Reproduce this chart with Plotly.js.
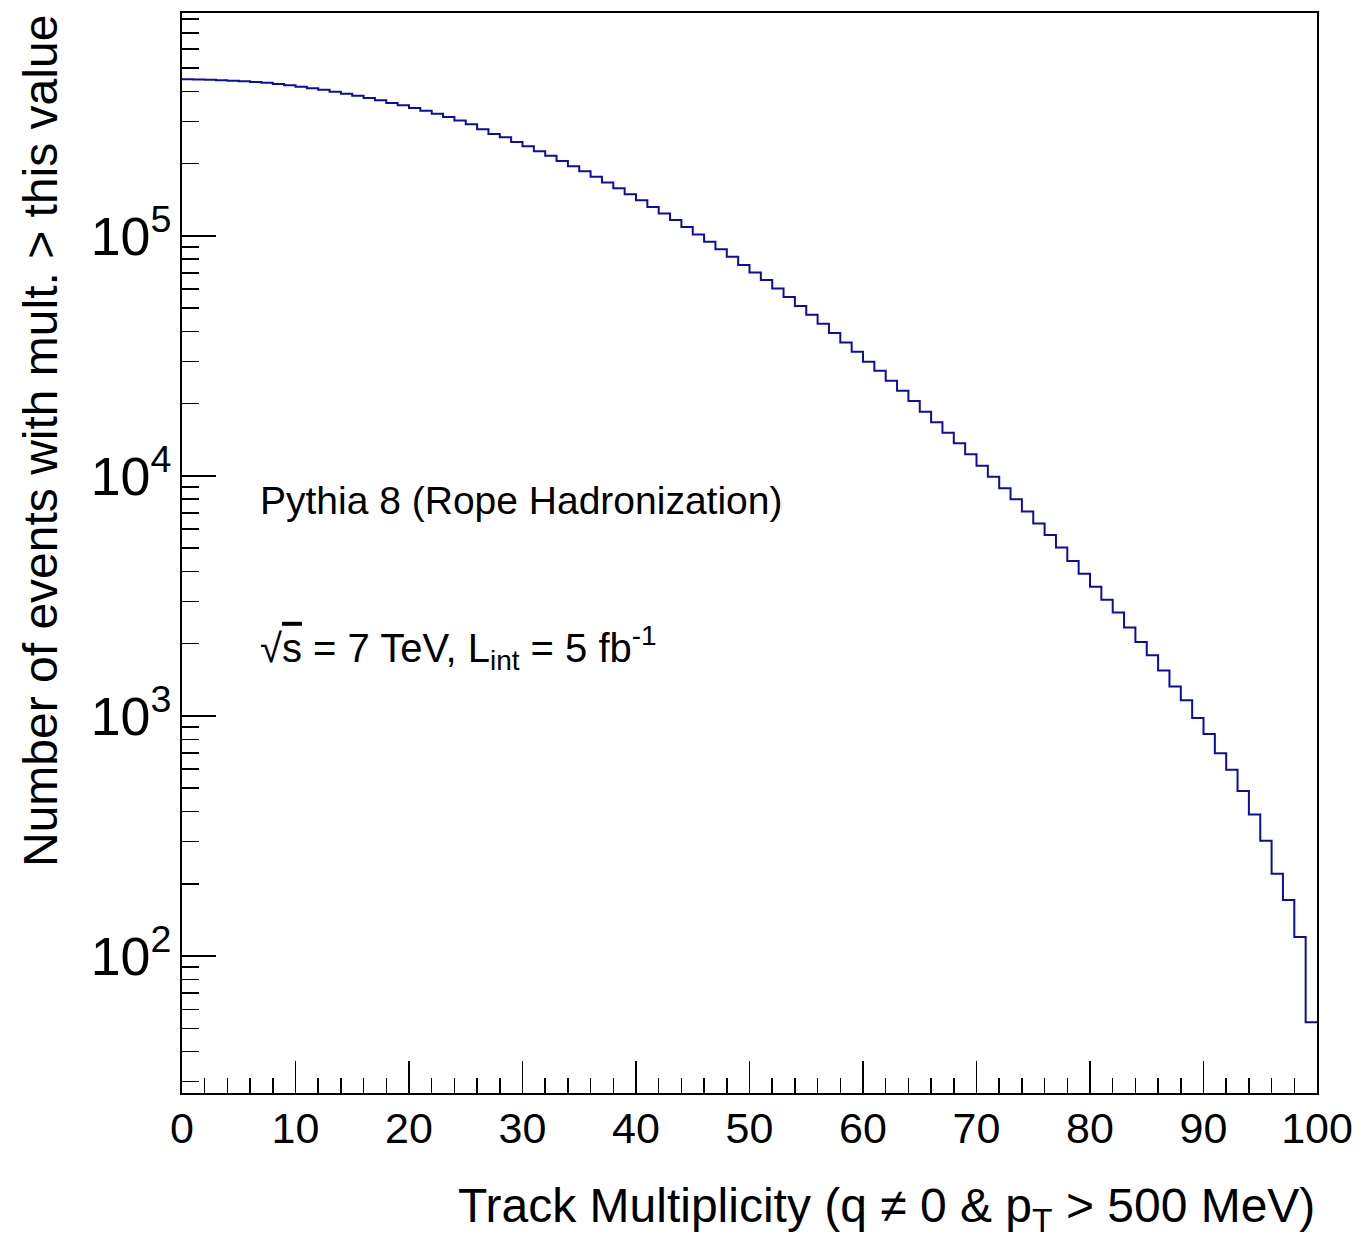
<!DOCTYPE html>
<html>
<head>
<meta charset="utf-8">
<script src="https://cdn.plot.ly/plotly-3.0.1.min.js"></script>
<style>html,body{margin:0;padding:0;background:#fff;}#chart{width:1370px;height:1241px;}</style>
</head>
<body>
<div id="chart"></div>
<script>
// Lower edge of each track-multiplicity bin (width 1), 0..99, plus the upper edge 100
var binLowEdges = [0,1,2,3,4,5,6,7,8,9,10,11,12,13,14,15,16,17,18,19,20,21,22,23,24,25,26,27,28,29,
  30,31,32,33,34,35,36,37,38,39,40,41,42,43,44,45,46,47,48,49,50,51,52,53,54,55,56,57,58,59,
  60,61,62,63,64,65,66,67,68,69,70,71,72,73,74,75,76,77,78,79,80,81,82,83,84,85,86,87,88,89,
  90,91,92,93,94,95,96,97,98,99];
var lastUpperEdge = 100;

// Number of events with multiplicity > bin value
var eventsAbove = [449700,448800,447500,445800,443700,441100,438200,434400,429900,424500,
  418900,412900,406200,399300,391700,383900,375800,367300,358300,350100,
  341500,332700,323300,313200,302900,292000,278400,266100,257800,246400,
  236500,225600,215900,205400,195200,186000,176500,167100,158000,149300,
  140900,131900,124100,116600,108900,101300,94600,88000,82000,75700,
  70400,65500,60400,55700,51100,47000,43100,39400,35980,32950,
  29940,27440,24930,22670,20540,18530,16740,15150,13680,12310,
  11040,9933,8886,7993,7113,6345,5671,5036,4428,3915,
  3454,3047,2700,2339,2034,1789,1546,1326,1163,982,
  841,700,597,487,389,302,220,171,120,53];

var xTitle = "Track Multiplicity (q \u2260 0 &amp; p<sub>T</sub> &gt; 500 MeV)";
var yTitle = "Number of events with mult. &gt; this value";
var label1 = "Pythia 8 (Rope Hadronization)";
var label2 = "\u221A<span style=\"text-decoration:overline\">s</span> = 7 TeV, L<sub>int</sub> = 5 fb<sup>-1</sup>";

var xs = binLowEdges.concat([lastUpperEdge]);
var ys = eventsAbove.concat([eventsAbove[eventsAbove.length - 1]]);

var FONT = "'Liberation Sans', Arial, Helvetica, sans-serif";

var trace = {
  type: 'scatter',
  mode: 'lines',
  x: xs,
  y: ys,
  line: {shape: 'hv', color: '#0c0ca8', width: 2},
  hoverinfo: 'x+y',
  showlegend: false
};

var layout = {
  width: 1370,
  height: 1241,
  margin: {l: 182, r: 53, t: 13, b: 148},
  paper_bgcolor: '#ffffff',
  plot_bgcolor: '#ffffff',
  font: {family: FONT, color: '#000000'},
  showlegend: false,
  xaxis: {
    range: [0, 100],
    showgrid: false,
    zeroline: false,
    showline: true,
    mirror: true,
    linecolor: '#000000',
    linewidth: 2,
    ticks: 'inside',
    ticklen: 32,
    tickwidth: 1.5,
    tickcolor: '#000000',
    tick0: 0,
    dtick: 10,
    ticklabelstandoff: -4,
    tickfont: {family: FONT, size: 43, color: '#000000'},
    minor: {ticks: 'inside', ticklen: 15, tickwidth: 1.5, tickcolor: '#000000', dtick: 2, showgrid: false}
  },
  yaxis: {
    type: 'log',
    range: [1.4292, 5.929],
    showgrid: false,
    zeroline: false,
    showline: true,
    mirror: true,
    linecolor: '#000000',
    linewidth: 2,
    ticks: 'inside',
    ticklen: 34,
    tickwidth: 1.5,
    tickcolor: '#000000',
    dtick: 1,
    exponentformat: 'power',
    tickfont: {family: FONT, size: 43, color: '#000000'},
    minor: {ticks: 'inside', ticklen: 17, tickwidth: 1.5, tickcolor: '#000000', dtick: 'D1', showgrid: false}
  },
  annotations: [
    {xref: 'paper', yref: 'paper', x: 1, y: -0.107, xanchor: 'right', yanchor: 'middle',
     text: xTitle, showarrow: false, font: {family: FONT, size: 48, color: '#000000'}},
    {xref: 'paper', yref: 'paper', x: -0.1251, y: 1, xanchor: 'center', yanchor: 'top',
     textangle: -90, text: yTitle, showarrow: false, font: {family: FONT, size: 48, color: '#000000'}},
    {xref: 'paper', yref: 'paper', x: 0.067, y: 0.549, xanchor: 'left', yanchor: 'middle',
     text: label1, showarrow: false, font: {family: FONT, size: 39, color: '#000000'}},
    {xref: 'paper', yref: 'paper', x: 0.067, y: 0.412, xanchor: 'left', yanchor: 'middle',
     text: label2, showarrow: false, font: {family: FONT, size: 40, color: '#000000'}}
  ]
};

Plotly.newPlot('chart', [trace], layout, {displayModeBar: false, staticPlot: true});
</script>
</body>
</html>
